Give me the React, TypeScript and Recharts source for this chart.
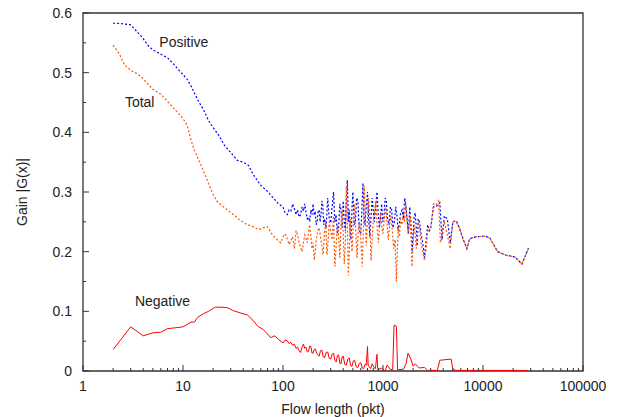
import React from 'react';
import { LineChart, Line, XAxis, YAxis, ReferenceArea, ReferenceDot } from 'recharts';

// Flow length (pkt) and gain values
const positiveLen = [2, 2.5, 3, 3.5, 4, 4.5, 5, 6, 7, 8, 9, 10, 11, 12, 13, 14, 16, 18, 20, 23, 26, 30, 35, 40, 45, 50, 55, 60, 70, 80, 90,
    100, 105, 110, 115, 120, 125, 130, 135, 140, 145, 150, 155, 160, 165, 170, 175, 180, 185, 190, 195, 200, 205, 210, 215, 220, 225, 230, 235, 240, 245, 250, 255, 260, 270, 280, 290, 300, 310, 320, 330, 340, 350, 360, 370, 380, 390, 400, 410, 420, 430, 440, 450, 460, 470, 480, 490, 500, 515, 530, 545, 560, 580, 600, 615, 630, 645, 660, 680, 700, 720, 740, 760, 780, 800, 820, 845, 870, 895, 920, 945, 970, 995, 1020, 1050, 1080, 1110, 1150, 1185, 1220, 1260, 1300, 1340, 1380, 1415, 1450, 1500, 1550, 1600, 1650, 1700, 1750, 1800, 1850, 1900, 1950, 2000, 2050, 2100, 2150, 2200, 2250, 2320, 2400, 2500, 2600, 2700, 2800, 2900, 3000,
    3200, 3400, 3700, 3900, 4100, 4400, 4700, 5000, 5400, 5800, 6300, 6900, 7400, 8600, 10500, 11700, 14000, 17000, 21000, 24500, 28500];
const positiveGain = [0.583, 0.582, 0.58, 0.568, 0.557, 0.545, 0.538, 0.531, 0.525, 0.515, 0.505, 0.497, 0.489, 0.478, 0.466, 0.455, 0.438, 0.42, 0.408, 0.394, 0.378, 0.366, 0.353, 0.35, 0.345, 0.33, 0.32, 0.311, 0.301, 0.29, 0.28,
    0.275, 0.265, 0.262, 0.27, 0.268, 0.28, 0.272, 0.262, 0.27, 0.258, 0.262, 0.275, 0.268, 0.28, 0.266, 0.255, 0.258, 0.25, 0.27, 0.262, 0.28, 0.262, 0.265, 0.245, 0.252, 0.268, 0.27, 0.25, 0.262, 0.285, 0.278, 0.245, 0.255, 0.24, 0.29, 0.255, 0.248, 0.275, 0.3, 0.25, 0.262, 0.23, 0.24, 0.28, 0.27, 0.24, 0.285, 0.25, 0.235, 0.29, 0.32, 0.25, 0.27, 0.23, 0.22, 0.275, 0.3, 0.245, 0.25, 0.29, 0.285, 0.235, 0.23, 0.27, 0.315, 0.26, 0.245, 0.275, 0.3, 0.25, 0.225, 0.26, 0.29, 0.27, 0.25, 0.275, 0.3, 0.265, 0.24, 0.26, 0.28, 0.25, 0.255, 0.29, 0.285, 0.255, 0.245, 0.275, 0.27, 0.24, 0.25, 0.275, 0.26, 0.235, 0.245, 0.265, 0.27, 0.255, 0.29, 0.275, 0.25, 0.23, 0.275, 0.25, 0.2, 0.23, 0.258, 0.265, 0.24, 0.21, 0.255, 0.25, 0.23, 0.215, 0.19, 0.22, 0.245, 0.235, 0.24,
    0.275, 0.275, 0.282, 0.22, 0.26, 0.255, 0.215, 0.25, 0.252, 0.24, 0.222, 0.205, 0.222, 0.225, 0.226, 0.223, 0.2, 0.194, 0.191, 0.179, 0.206];

const totalLen = [2, 2.3, 2.6, 3, 3.5, 4, 4.5, 5, 6, 7, 8, 9, 10, 11, 12, 13, 14, 16, 18, 20, 22, 25, 28, 32, 37, 43, 50, 57, 63, 70, 77, 85,
    95, 100, 105, 110, 115, 120, 125, 130, 135, 140, 145, 150, 155, 160, 165, 170, 175, 180, 185, 190, 195, 200, 205, 210, 215, 222, 230, 237, 245, 252, 260, 268, 275, 282, 290, 300, 310, 320, 330, 340, 350, 360, 370, 380, 390, 400, 410, 420, 430, 440, 450, 460, 470, 480, 490, 505, 520, 535, 550, 565, 580, 600, 620, 635, 650, 665, 680, 700, 720, 740, 760, 780, 800, 825, 850, 875, 900, 925, 950, 975, 1000, 1030, 1060, 1095, 1130, 1165, 1200, 1240, 1280, 1320, 1360, 1390, 1420, 1460, 1500, 1550, 1600, 1640, 1680, 1730, 1780, 1830, 1880, 1920, 1950, 2000, 2050, 2100, 2150, 2200, 2250, 2320, 2400, 2500, 2600, 2700, 2800, 3000,
    3200, 3400, 3600, 3750, 3900, 4100, 4400, 4700, 5000, 5400, 5800, 6300, 6900, 7400, 8600, 10500, 11700, 14000, 17000, 21000, 24500, 28500];
const totalGain = [0.546, 0.532, 0.513, 0.504, 0.498, 0.49, 0.48, 0.472, 0.464, 0.452, 0.441, 0.432, 0.423, 0.412, 0.388, 0.37, 0.358, 0.336, 0.314, 0.296, 0.284, 0.276, 0.27, 0.262, 0.253, 0.246, 0.242, 0.237, 0.24, 0.242, 0.23, 0.222,
    0.215, 0.225, 0.23, 0.222, 0.212, 0.218, 0.225, 0.205, 0.235, 0.228, 0.215, 0.208, 0.2, 0.215, 0.228, 0.222, 0.215, 0.232, 0.245, 0.225, 0.205, 0.215, 0.186, 0.2, 0.22, 0.235, 0.24, 0.225, 0.21, 0.195, 0.232, 0.25, 0.195, 0.215, 0.25, 0.235, 0.22, 0.26, 0.175, 0.21, 0.245, 0.225, 0.19, 0.24, 0.27, 0.23, 0.18, 0.215, 0.31, 0.25, 0.16, 0.2, 0.255, 0.23, 0.2, 0.25, 0.28, 0.23, 0.19, 0.235, 0.25, 0.22, 0.175, 0.23, 0.31, 0.26, 0.21, 0.255, 0.29, 0.24, 0.185, 0.225, 0.25, 0.27, 0.285, 0.24, 0.215, 0.245, 0.265, 0.24, 0.23, 0.255, 0.275, 0.25, 0.22, 0.245, 0.26, 0.235, 0.205, 0.22, 0.15, 0.2, 0.24, 0.225, 0.255, 0.245, 0.265, 0.25, 0.285, 0.26, 0.23, 0.245, 0.26, 0.215, 0.175, 0.215, 0.245, 0.23, 0.205, 0.225, 0.25, 0.24, 0.215, 0.2, 0.185, 0.205, 0.235, 0.24,
    0.28, 0.278, 0.285, 0.215, 0.23, 0.25, 0.228, 0.205, 0.252, 0.25, 0.24, 0.222, 0.205, 0.222, 0.225, 0.226, 0.223, 0.2, 0.194, 0.191, 0.179, 0.206];

const negativeLen = [2, 3, 4, 5, 6, 7, 8, 10, 11, 12, 13, 14, 16, 18, 21, 24, 28, 32, 38, 44, 50, 56, 63, 70, 75, 83, 90,
    100, 105, 110, 115, 120, 125, 130, 135, 140, 145, 150, 155, 160, 165, 170, 175, 180, 185, 190, 195, 200, 205, 210, 220, 230, 237, 245, 252, 260, 270, 280, 290, 300, 310, 320, 330, 340, 350, 360, 370, 380, 390, 400, 415, 430, 445, 460, 475, 490, 505, 520, 540, 560, 580, 600, 620, 640, 660, 680, 700, 710, 720, 750, 780, 810, 840, 870, 885, 900, 960, 1050, 1100, 1180, 1250,
    1290, 1360, 1400, 1600, 1700, 1780, 1900, 2000, 2100, 2300, 2600, 2800, 3500, 3700, 4800, 5000, 5500, 28000];
const negativeGain = [0.036, 0.074, 0.059, 0.064, 0.065, 0.071, 0.072, 0.074, 0.078, 0.082, 0.082, 0.09, 0.096, 0.1, 0.107, 0.107, 0.106, 0.101, 0.097, 0.094, 0.085, 0.075, 0.07, 0.062, 0.056, 0.059, 0.053,
    0.047, 0.052, 0.051, 0.046, 0.048, 0.043, 0.045, 0.038, 0.04, 0.034, 0.031, 0.04, 0.045, 0.038, 0.04, 0.032, 0.033, 0.042, 0.041, 0.03, 0.03, 0.036, 0.037, 0.028, 0.025, 0.034, 0.035, 0.024, 0.022, 0.031, 0.032, 0.021, 0.02, 0.028, 0.03, 0.018, 0.015, 0.026, 0.027, 0.013, 0.012, 0.024, 0.025, 0.011, 0.01, 0.02, 0.022, 0.009, 0.008, 0.017, 0.018, 0.007, 0.006, 0.013, 0.014, 0.005, 0.004, 0.011, 0.01, 0.041, 0.01, 0.008, 0.004, 0.012, 0.006, 0.004, 0.028, 0.004, 0.002, 0.005, 0.0, 0.01, 0.003, 0.002,
    0.077, 0.075, 0.002, 0.003, 0.012, 0.03, 0.02, 0.008, 0.012, 0.005, 0.006, 0.001, 0.001, 0.018, 0.02, 0.002, 0.001, 0.001];

const xMajor = [1, 10, 100, 1000, 10000, 100000];
const xTicks = [1, 2, 3, 4, 5, 6, 7, 8, 9, 10, 20, 30, 40, 50, 60, 70, 80, 90, 100, 200, 300, 400, 500, 600, 700, 800, 900, 1000, 2000, 3000, 4000, 5000, 6000, 7000, 8000, 9000, 10000, 20000, 30000, 40000, 50000, 60000, 70000, 80000, 90000, 100000];
const yTicks = [0, 0.05, 0.1, 0.15, 0.2, 0.25, 0.3, 0.35, 0.4, 0.45, 0.5, 0.55, 0.6];

const zip = (xs: number[], ys: number[]) => xs.map((len, i) => ({ len, gain: ys[i] }));
const positiveData = zip(positiveLen, positiveGain);
const totalData = zip(totalLen, totalGain);
const negativeData = zip(negativeLen, negativeGain);

const FONT = '"Liberation Sans", Arial, sans-serif';
const INK = '#222';

const XTick = ({ x, y, payload }: any) => {
    const v = payload.value;
    const major = xMajor.includes(v);
    return (
        <g>
            <line x1={x} x2={x} y1={y} y2={y - (major ? 6 : 3)} stroke="#333" />
            {major && (
                <text x={x} y={y + 20} textAnchor="middle" fontSize={14} fontFamily={FONT} fill={INK}>
                    {v}
                </text>
            )}
        </g>
    );
};

const YTick = ({ x, y, payload }: any) => {
    const v = payload.value;
    const major = Math.round(v * 100) % 10 === 0;
    return (
        <g>
            <line x1={x} x2={x + (major ? 6 : 3)} y1={y} y2={y} stroke="#333" />
            {major && (
                <text x={x - 11} y={y} dy="0.35em" textAnchor="end" fontSize={14} fontFamily={FONT} fill={INK}>
                    {Math.round(v * 10) / 10}
                </text>
            )}
        </g>
    );
};

const annotation = (text: string) => ({
    value: text,
    position: 'center' as const,
    style: { fontSize: 14, fontFamily: FONT, fill: INK },
});

export default function App() {
    return (
        <div style={{ position: 'absolute', left: 0, top: 0, background: '#fff' }}>
            <LineChart width={630} height={417} margin={{ top: 13, right: 47, bottom: 0, left: 0 }}>
                <XAxis
                    dataKey="len"
                    type="number"
                    scale="log"
                    domain={[1, 100000]}
                    ticks={xTicks}
                    interval={0}
                    allowDataOverflow
                    axisLine={false}
                    tickLine={false}
                    tickSize={0}
                    tickMargin={0}
                    tick={<XTick />}
                    height={46}
                    label={{ value: 'Flow length (pkt)', position: 'insideBottom', offset: 3, style: { fontSize: 14, fontFamily: FONT, fill: INK } }}
                />
                <YAxis
                    type="number"
                    domain={[0, 0.6]}
                    ticks={yTicks}
                    interval={0}
                    allowDataOverflow
                    axisLine={false}
                    tickLine={false}
                    tickSize={0}
                    tickMargin={0}
                    tick={<YTick />}
                    width={83}
                    label={{ value: 'Gain |G(x)|', angle: -90, position: 'insideLeft', offset: 22, style: { textAnchor: 'middle', fontSize: 14, fontFamily: FONT, fill: INK } }}
                />
                <ReferenceArea x1={1} x2={100000} y1={0} y2={0.6} fill="none" fillOpacity={0} stroke="#333" strokeWidth={1.3} />
                <Line data={negativeData} dataKey="gain" type="linear" stroke="#ff0000" strokeWidth={1} dot={false} isAnimationActive={false} />
                <Line data={positiveData} dataKey="gain" type="linear" stroke="#0000ff" strokeWidth={1.2} strokeDasharray="2 2" dot={false} isAnimationActive={false} />
                <Line data={totalData} dataKey="gain" type="linear" stroke="#ff5500" strokeWidth={1.2} strokeDasharray="2 2" dot={false} isAnimationActive={false} />
                <ReferenceDot x={10.2} y={0.552} r={0} stroke="none" label={annotation('Positive')} />
                <ReferenceDot x={3.69} y={0.45} r={0} stroke="none" label={annotation('Total')} />
                <ReferenceDot x={6.24} y={0.1176} r={0} stroke="none" label={annotation('Negative')} />
            </LineChart>
        </div>
    );
}
